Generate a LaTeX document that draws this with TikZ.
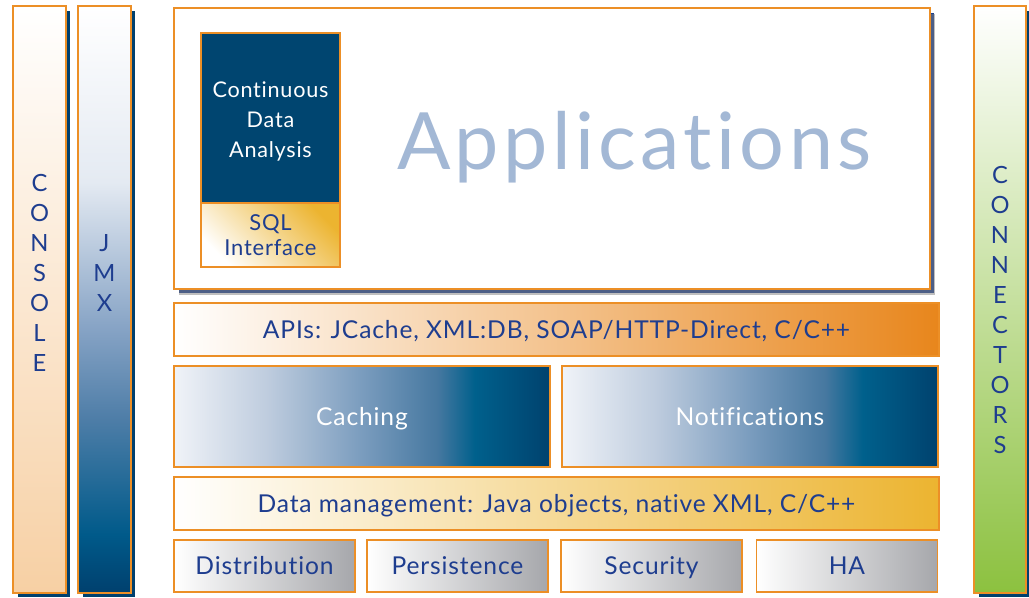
\documentclass[tikz,border=0pt]{standalone}
\usepackage{fontspec}
\setmainfont[LetterSpace=3.5, Ligatures=NoCommon]{Lato}
\newfontfamily\titlefont[LetterSpace=5.5, Ligatures=NoCommon]{Lato}
\usetikzlibrary{shadows}

\definecolor{edge}{RGB}{236,143,38}
\definecolor{ink}{RGB}{30,61,143}
\definecolor{navy}{RGB}{0,69,112}
\definecolor{deepnavy}{RGB}{0,64,110}
\definecolor{royal}{RGB}{27,62,141}
\definecolor{peach}{RGB}{247,208,164}
\definecolor{apiorange}{RGB}{232,134,28}
\definecolor{gold}{RGB}{236,180,48}
\definecolor{steel}{RGB}{166,167,171}
\definecolor{leaf}{RGB}{140,193,63}
\definecolor{appblue}{RGB}{163,184,213}
% stops for the blue gradients
\definecolor{jA}{RGB}{0,90,138}
\definecolor{jB}{RGB}{79,126,168}
\definecolor{jC}{RGB}{134,163,197}
\definecolor{jD}{RGB}{228,234,242}
\definecolor{cA}{RGB}{240,243,248}
\definecolor{cB}{RGB}{190,204,222}
\definecolor{cC}{RGB}{122,156,190}
\definecolor{cD}{RGB}{70,120,160}
\definecolor{cE}{RGB}{0,96,140}
\definecolor{cF}{RGB}{0,66,110}

\pgfdeclareverticalshading{jmxshade}{100bp}{color(0bp)=(deepnavy); color(25bp)=(deepnavy);
  color(30bp)=(jA); color(40bp)=(jB); color(47.5bp)=(jC); color(60bp)=(jD);
  color(75bp)=(white); color(100bp)=(white)}
\pgfdeclarehorizontalshading{cacheshade}{100bp}{color(0bp)=(cA); color(25bp)=(cA);
  color(37.5bp)=(cB); color(50bp)=(cC); color(60bp)=(cD); color(65bp)=(cE);
  color(75bp)=(cF); color(100bp)=(cF)}

\begin{document}
\begin{tikzpicture}[x=0.02cm, y=-0.02cm,
  box/.style={draw=edge, line width=1.1pt, inner sep=0pt, text=ink,
    font=\fontsize{14}{17}\selectfont, text height=10pt, text depth=0pt},
  pillar/.style={draw=edge, line width=1.1pt, minimum width=1.06cm, minimum height=11.74cm},
  lettering/.style={text=ink, align=center, font=\fontsize{13.5}{17.07}\selectfont},
  castshadow/.style={drop shadow={shadow xshift=0.09cm, shadow yshift=-0.09cm, fill=#1, opacity=1}},
  layerbar/.style={box, minimum width=15.3cm, minimum height=1.06cm},
  module/.style={box, minimum width=7.52cm, minimum height=2.02cm, shade, shading=cacheshade, text=white},
  service/.style={box, minimum width=3.62cm, minimum height=1.04cm, left color=white, right color=steel}
]
\useasboundingbox (0,0) rectangle (1029,598);

% side pillars
\node[pillar, castshadow=deepnavy, top color=white, bottom color=peach] (console) at (39.5,299.5) {};
\node[pillar, castshadow=deepnavy, shade, shading=jmxshade] (jmx) at (104.5,299.5) {};
\node[pillar, castshadow=deepnavy, minimum width=1.04cm, top color=white, bottom color=leaf] (connectors) at (1000,299.5) {};
\node[lettering] (consoletxt) at (39.5,273) {C\\O\\N\\S\\O\\L\\E};
\node[lettering] (jmxtxt) at (104.5,273) {J\\M\\X};
\node[lettering] (connectorstxt) at (1000,310) {C\\O\\N\\N\\E\\C\\T\\O\\R\\S};

% application area
\node[pillar, castshadow=royal, fill=white, minimum width=15.12cm, minimum height=5.62cm,
  drop shadow={shadow xshift=0.1cm, shadow yshift=-0.12cm}] (apps) at (552,148.5) {};
\node[text=appblue, font=\titlefont\fontsize{45}{50}\selectfont, anchor=base] (appstitle) at (634.5,170) {Applications};
\node[draw=edge, line width=0.6pt, fill=navy, minimum width=2.78cm, minimum height=3.42cm,
  inner sep=0pt] (cda) at (270.5,118.5) {};
\node[align=center, text=white, font=\fontsize{12.3}{17.07}\selectfont] (cdatxt) at (270.5,121.5)
  {Continuous\\Data\\Analysis};
\node[draw=edge, line width=0.6pt, minimum width=2.78cm, minimum height=1.28cm, inner sep=0pt,
  align=center, text=ink, font=\fontsize{12.5}{14.2}\selectfont,
  bottom color=white, top color=gold, shading angle=-45] (sql) at (270.5,235) {SQL\\Interface};

% layers
\node[layerbar, left color=white, right color=apiorange] (apis) at (556.5,329.5)
  {APIs: JCache, XML:DB, SOAP/HTTP-Direct, C/C++};
\node[module] (caching) at (362,416.5) {Caching};
\node[module] (notify) at (750,416.5) {Notifications};
\node[layerbar, left color=white, right color=gold] (datamgmt) at (556.5,503.5)
  {Data management: Java objects, native XML, C/C++};
\foreach \n/\x/\t in {distrib/264.5/Distribution, persist/457.5/Persistence, secure/651.5/Security, ha/847/HA}
  \node[service] (\n) at (\x,566) {\t};
\end{tikzpicture}
\end{document}
